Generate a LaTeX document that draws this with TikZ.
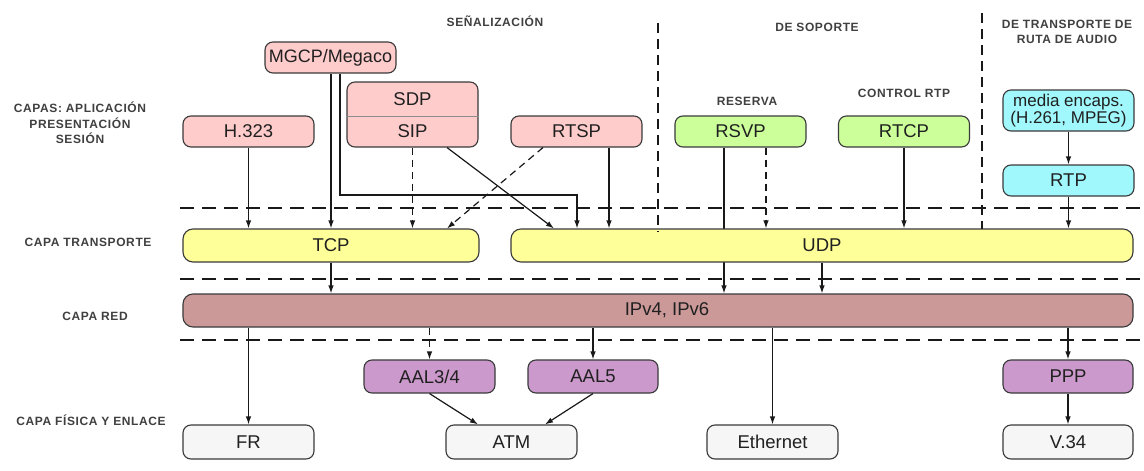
\documentclass[tikz,border=0pt]{standalone}
\usepackage{fontspec}
\setmainfont{Liberation Sans}
\newfontfamily\labelfont[LetterSpace=5]{Liberation Sans}
\usetikzlibrary{arrows.meta}

\definecolor{edge}{HTML}{3A3A3A}
\definecolor{txt}{HTML}{202020}
\definecolor{lbl}{HTML}{404040}
\definecolor{appfill}{HTML}{FFCCCC}
\definecolor{supfill}{HTML}{CCFF99}
\definecolor{medfill}{HTML}{A0F8FC}
\definecolor{trnfill}{HTML}{FFFF99}
\definecolor{netfill}{HTML}{CC9999}
\definecolor{lnkfill}{HTML}{CC99CC}
\definecolor{phyfill}{HTML}{F6F6F6}

\begin{document}
\begin{tikzpicture}[x=1pt,y=-1pt,
  blk/.style={draw=edge, line width=1.1pt, rounded corners=8pt, inner sep=0pt,
    font=\fontsize{18.5}{20}\selectfont, text=txt,
    minimum width=131pt, minimum height=31pt},
  wide/.style={blk, rounded corners=10pt, minimum height=33pt},
  layerlbl/.style={font=\labelfont\bfseries\fontsize{12}{15.5}\selectfont, text=lbl, align=center, inner sep=0pt},
  link/.style={line width=1.2pt, draw=black!90, -{Latex[length=8pt,width=5.5pt]}},
  dlink/.style={link, dash pattern=on 7pt off 5pt},
  sep/.style={line width=1.4pt, draw=black!90, dash pattern=on 14pt off 8pt},
  vsep/.style={line width=1.3pt, draw=black!90, dash pattern=on 10pt off 6pt}
]
\useasboundingbox (0,0) rectangle (1144,471);
\fill[white] (0,0) rectangle (1144,471);

% layer separators
\draw[sep] (180,208) -- (1144,208);
\draw[sep] (180,279) -- (1144,279);
\draw[sep] (180,340) -- (1144,340);

% column and row headings
\node[layerlbl] (hsig) at (495,21) {SEÑALIZACIÓN};
\node[layerlbl] (hsup) at (817,27) {DE SOPORTE};
\node[layerlbl] (haud) at (1067,32) {DE TRANSPORTE DE\\RUTA DE AUDIO};
\node[layerlbl] (hres) at (747,101) {RESERVA};
\node[layerlbl] (hctl) at (904,93) {CONTROL RTP};
\node[layerlbl] (lapp) at (80,123) {CAPAS: APLICACIÓN\\PRESENTACIÓN\\SESIÓN};
\node[layerlbl] (ltrn) at (88,242) {CAPA TRANSPORTE};
\node[layerlbl] (lnet) at (95,316) {CAPA RED};
\node[layerlbl] (lphy) at (91,420) {CAPA FÍSICA Y ENLACE};

% application protocols
\node[blk, fill=appfill, font=\fontsize{18}{20}\selectfont] (mgcp) at (330.5,57.5) {MGCP/Megaco};
\node[blk, fill=appfill, minimum height=65pt] (sdpsip) at (412.5,114.5) {};
\draw[draw=black!45, line width=1pt] (sdpsip.west |- 0,116) -- (sdpsip.east |- 0,116);
\node[font=\fontsize{18.5}{20}\selectfont, text=txt, inner sep=0pt] (sdp) at (412.5,99.5) {SDP};
\node[font=\fontsize{18.5}{20}\selectfont, text=txt, inner sep=0pt] (sip) at (412.5,131.5) {SIP};
\node[blk, fill=appfill] (h323) at (248.5,131.5) {H.323};
\node[blk, fill=appfill] (rtsp) at (576.5,131.5) {RTSP};

% support protocols
\node[blk, fill=supfill] (rsvp) at (740.5,131.5) {RSVP};
\node[blk, fill=supfill] (rtcp) at (904,131.5) {RTCP};

% media path
\node[blk, fill=medfill, minimum height=41pt, align=center,
      font=\fontsize{17}{16.5}\selectfont] (media) at (1068.5,110.5) {media encaps.\\(H.261, MPEG)};
\node[blk, fill=medfill] (rtp) at (1068.5,180.5) {RTP};

% transport and network
\node[wide, fill=trnfill, minimum width=296pt] (tcp) at (331,245.5) {TCP};
\node[wide, fill=netfill, minimum width=950pt] (ip) at (658,310.5) {\hspace*{18pt}IPv4, IPv6};

% RSVP runs behind the UDP bar down to IP
\draw[link] ([xshift=-16.5pt]rsvp.south) -- ([xshift=-16.5pt]rsvp.south |- ip.north);
\node[wide, fill=trnfill, minimum width=622pt] (udp) at (822,245.5) {UDP};

% link and physical layers
\node[blk, fill=lnkfill, minimum height=33pt] (aal34) at (429.5,376.5) {AAL3/4};
\node[blk, fill=lnkfill, minimum height=33pt, minimum width=130pt] (aal5) at (593,376.5) {AAL5};
\node[blk, fill=lnkfill, minimum height=33pt, minimum width=130pt] (ppp) at (1068,376.5) {PPP};
\node[blk, fill=phyfill, minimum height=34pt] (fr) at (248.5,442) {FR};
\node[blk, fill=phyfill, minimum height=34pt] (atm) at (511.5,442) {ATM};
\node[blk, fill=phyfill, minimum height=34pt] (eth) at (772.5,442) {Ethernet};
\node[blk, fill=phyfill, minimum height=34pt, minimum width=130pt] (v34) at (1068,442) {V.34};

% application -> transport
\draw[link] (h323.south) -- (h323.south |- tcp.north);
\draw[link] ([xshift=0.5pt]mgcp.south) -- ([xshift=0.5pt]mgcp.south |- tcp.north);
\coordinate (mgbend) at (577,195);
\draw[link] ([xshift=9.5pt]mgcp.south) |- (mgbend) -- (mgbend |- udp.north);
\draw[dlink] (sdpsip.south) -- (sdpsip.south |- tcp.north);
\draw[link] ([xshift=34.5pt]sdpsip.south) -- ([xshift=-268pt]udp.north);
\draw[dlink] ([xshift=-33.5pt]rtsp.south) -- ([xshift=116pt]tcp.north);
\draw[link] ([xshift=32.5pt]rtsp.south) -- ([xshift=32.5pt]rtsp.south |- udp.north);
\draw[dlink] ([xshift=25.5pt]rsvp.south) -- ([xshift=25.5pt]rsvp.south |- udp.north);
\draw[link] (rtcp.south) -- (rtcp.south |- udp.north);
\draw[link] (media.south) -- (rtp.north);
\draw[link] (rtp.south) -- (rtp.south |- udp.north);

% transport -> network
\draw[link] (tcp.south) -- (tcp.south |- ip.north);
\draw[link] (udp.south) -- (udp.south |- ip.north);

% network -> link / physical
\draw[link] (fr.north |- ip.south) -- (fr.north);
\draw[dlink] (aal34.north |- ip.south) -- (aal34.north);
\draw[link] (aal5.north |- ip.south) -- (aal5.north);
\draw[link] (eth.north |- ip.south) -- (eth.north);
\draw[link] (ppp.north |- ip.south) -- (ppp.north);
\draw[link] (ppp.south) -- (v34.north);
\draw[link] (aal34.south) -- ([xshift=-33.5pt]atm.north);
\draw[link] (aal5.south) -- ([xshift=33.5pt]atm.north);

% column separators
\draw[vsep] (658,23) -- (658,232);
\draw[vsep] (982,13) -- (982,229);
\end{tikzpicture}
\end{document}
